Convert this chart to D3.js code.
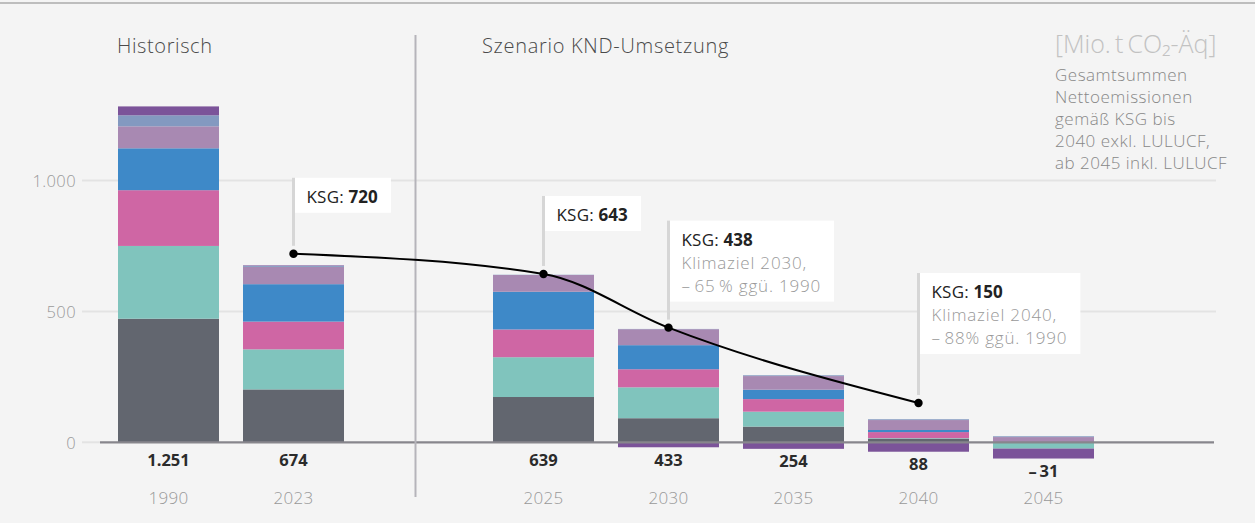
<!DOCTYPE html>
<html><head><meta charset="utf-8">
<script src="https://cdn.jsdelivr.net/npm/d3@7"></script>
<style>
html,body{margin:0;padding:0;background:#f4f4f4;}
svg{display:block;font-family:"Open Sans","Noto Sans",sans-serif;}
</style></head>
<body>
<svg id="chart" width="1255" height="523"></svg>
<script>
// ---- data ----
const years = ["1990","2023","2025","2030","2035","2040","2045"];
const gapAfter = "2023";
const seriesKeys = ["grau","tuerkis","pink","blau","mauve","hellblau","lulucf"];
const seriesColors = ["#62666f","#80c4bd","#cf66a4","#3e89c8","#a889b2","#8399c0","#7b5399"];
const grau     = [472, 202, 173,  92,  60,  14,   0];
const tuerkis  = [278, 153, 152, 118,  57,   2, -24];
const pink     = [213, 106, 106,  69,  48,  23,   0];
const blau     = [160, 143, 144,  92,  36,   8,   0];
const mauve    = [ 84,  66,  64,  61,  52,  38,  20];
const hellblau = [ 42,   4,   1,   1,   3,   3,   3];
const lulucf   = [ 34,   2,   0, -19, -25, -36, -38];
const netTotals = [1251, 674, 639, 433, 254, 88, -31];
const ksgYears  = ["2023","2025","2030","2040"];
const ksgValues = [720, 643, 438, 150];
const ksgNotes  = [[], [], ["Klimaziel 2030,", "\u2013\u200965\u2009% ggü. 1990"], ["Klimaziel 2040,", "\u2013\u200988% ggü. 1990"]];
const ksgBoxRise = [76, 78, 107, 130];
const yTicks = [0, 500, 1000];
const unitLabel = "[Mio.\u2009t\u2009CO\u2082-Äq]";
const noteLines = ["Gesamtsummen","Nettoemissionen","gemäß KSG bis","2040 exkl. LULUCF,","ab 2045 inkl. LULUCF"];

// ---- setup ----
const svg = d3.select("#chart");
const W = 1255, H = 523;
const de = d3.formatLocale({decimal:",", thousands:".", grouping:[3], currency:["","€"], minus:"\u2013\u2009"});
const fmt = de.format(",d");

const domain = [];
years.forEach(y => { domain.push(y); if (y === gapAfter) domain.push("gap"); });
const x = d3.scaleBand().domain(domain).range([106, 1106]).paddingInner(0.192).paddingOuter(0.096);
const y = d3.scaleLinear().domain([0, 1000]).range([442.3, 180.5]);

svg.append("rect").attr("x",0).attr("y",0).attr("width",W).attr("height",H).attr("fill","#f4f4f4");
svg.append("line").attr("x1",0).attr("x2",W).attr("y1",3).attr("y2",3).attr("stroke","#bdbdbd").attr("stroke-width",2);

// gridlines + tick labels
const yAxis = d3.axisLeft(y).tickValues(yTicks).tickFormat(fmt).tickSize(0).tickPadding(0);
const gy = svg.append("g").attr("transform","translate(76,0)").call(yAxis);
gy.select(".domain").remove();
gy.selectAll("text").attr("fill","#9a9a9a").attr("font-size",16.5).attr("font-weight",300)
  .attr("letter-spacing",0.4).attr("font-family","'Open Sans',sans-serif").attr("dy","0.36em");
svg.append("g").selectAll("line").data(yTicks.filter(d=>d!==0)).join("line")
  .attr("x1",82).attr("x2",1216).attr("y1",d=>y(d)).attr("y2",d=>y(d))
  .attr("stroke","#e3e3e3").attr("stroke-width",2);
svg.append("line").attr("x1",82).attr("x2",100).attr("y1",y(0)).attr("y2",y(0)).attr("stroke","#e3e3e3").attr("stroke-width",2);

// stacked bars
const rows = years.map((yr,i) => ({year:yr, grau:grau[i], tuerkis:tuerkis[i], pink:pink[i], blau:blau[i], mauve:mauve[i], hellblau:hellblau[i], lulucf:lulucf[i]}));
const stack = d3.stack().keys(seriesKeys).offset(d3.stackOffsetDiverging);
const layers = stack(rows);
const color = d3.scaleOrdinal().domain(seriesKeys).range(seriesColors);
svg.append("g").selectAll("g").data(layers).join("g").attr("fill",d=>color(d.key))
  .selectAll("rect").data(d=>d).join("rect")
  .attr("x",d=>x(d.data.year)).attr("width",x.bandwidth())
  .attr("y",d=>y(Math.max(d[0],d[1]))).attr("height",d=>Math.abs(y(d[0])-y(d[1])));

// zero axis line
svg.append("line").attr("x1",100).attr("x2",1214).attr("y1",y(0)).attr("y2",y(0)).attr("stroke","#87868c").attr("stroke-width",2.2);

// divider
const divX = (x(gapAfter) + x.bandwidth() + x(domain[domain.indexOf("gap")+1]))/2 - 3;
svg.append("line").attr("x1",divX).attr("x2",divX).attr("y1",35).attr("y2",497).attr("stroke","#b5b4ba").attr("stroke-width",2);

// section titles
svg.append("text").attr("x",x("1990")-1).attr("y",53).text("Historisch")
  .attr("font-size",20).attr("letter-spacing",0.6).attr("font-weight",300).attr("fill","#4a4a4a");
svg.append("text").attr("x",x("2025")-11).attr("y",53).text("Szenario KND-Umsetzung")
  .attr("font-size",20).attr("letter-spacing",0.7).attr("font-weight",300).attr("fill","#4a4a4a");

// totals and year labels
const negBottom = years.map((yr,i)=>{
  let s = 0; seriesKeys.forEach(k=>{ const v = rows[i][k]; if (v<0) s += v; }); return s;
});
svg.append("g").selectAll("text").data(years).join("text")
  .attr("x",d=>x(d)+x.bandwidth()/2)
  .attr("y",(d,i)=>Math.max(466, y(negBottom[i]) + 18))
  .attr("text-anchor","middle")
  .attr("font-size",16.5).attr("font-weight",700).attr("fill","#2b2b2b")
  .text((d,i)=>fmt(netTotals[i]));
svg.append("g").selectAll("text").data(years).join("text")
  .attr("x",d=>x(d)+x.bandwidth()/2).attr("y",504).attr("text-anchor","middle")
  .attr("font-size",17).attr("letter-spacing",0.3).attr("font-weight",300).attr("fill","#999")
  .text(d=>d);

// KSG annotations
const ksg = ksgYears.map((yr,i)=>({year:yr, value:ksgValues[i], notes:ksgNotes[i], rise:ksgBoxRise[i]}));
const cx = d => x(d.year) + x.bandwidth()/2;
const ann = svg.append("g").selectAll("g").data(ksg).join("g");
ann.append("line")
  .attr("x1",d=>cx(d)).attr("x2",d=>cx(d))
  .attr("y1",d=>y(d.value)-d.rise).attr("y2",d=>y(d.value)-8)
  .attr("stroke","#d6d6d6").attr("stroke-width",3);
const boxes = ann.append("rect").attr("fill","#fff");
const texts = ann.append("text").attr("font-size",17).attr("fill","#222");
texts.each(function(d){
  const t = d3.select(this);
  const x0 = cx(d) + 13, top = y(d.value) - d.rise;
  t.attr("x",x0).attr("y",top+25);
  t.append("tspan").attr("font-weight",400).attr("letter-spacing",0.2).text("KSG: ");
  t.append("tspan").attr("font-weight",700).attr("letter-spacing",0).text(d.value);
  d.notes.forEach((n,j)=>{
    t.append("tspan").attr("x",x0).attr("y",top+25+23*(j+1)).attr("fill","#999")
      .attr("font-weight",300).attr("letter-spacing",0.8).text(n);
  });
});
boxes.each(function(d){
  const tb = d3.select(this.parentNode).select("text").node().getBBox();
  const top = y(d.value) - d.rise;
  d3.select(this).attr("x",cx(d)+1.5).attr("y",top)
    .attr("width",tb.x + tb.width + 13 - (cx(d)+1.5))
    .attr("height",35 + 23*d.notes.length);
});

// KSG line
const line = d3.line().x(d=>cx(d)).y(d=>y(d.value)).curve(d3.curveMonotoneX);
svg.append("path").datum(ksg).attr("d",line).attr("fill","none").attr("stroke","#000").attr("stroke-width",2);
svg.append("g").selectAll("circle").data(ksg).join("circle")
  .attr("cx",cx).attr("cy",d=>y(d.value)).attr("r",4.2).attr("fill","#000");

// unit and note
svg.append("text").attr("x",1055).attr("y",53).attr("font-size",25).attr("font-weight",300).attr("fill","#c2c2c2").text(unitLabel);
svg.append("g").selectAll("text").data(noteLines).join("text")
  .attr("x",1055).attr("y",(d,i)=>81+22*i).attr("font-size",17).attr("letter-spacing",0.5)
  .attr("font-weight",300).attr("fill","#888").text(d=>d);
</script>
</body></html>
